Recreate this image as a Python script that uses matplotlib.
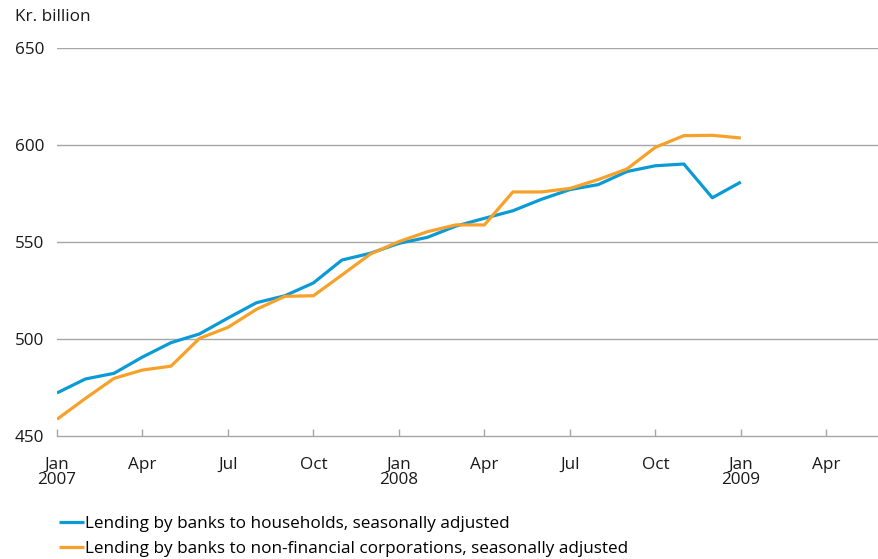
import matplotlib
matplotlib.use("Agg")
import matplotlib.pyplot as plt

plt.rcParams['font.family'] = ['Open Sans', 'DejaVu Sans']

# Monthly observations, Jan 2007 .. Jan 2009 (month index 0..24)
months = list(range(25))
households = [472.2, 479.4, 482.3, 490.7, 498.1, 502.6, 510.8, 518.7, 522.3, 528.9,
              540.7, 544.2, 549.3, 552.4, 558.2, 562.2, 566.1, 572.0, 577.0, 579.6,
              586.3, 589.3, 590.2, 572.8, 580.9]
corporations = [458.6, 469.4, 479.7, 484.0, 486.0, 500.3, 506.0, 515.3, 522.0, 522.3,
                533.0, 543.8, 550.2, 555.3, 558.8, 558.8, 575.8, 575.8, 577.6, 582.2,
                587.6, 598.8, 604.8, 605.0, 603.6]

tick_months = [0, 3, 6, 9, 12, 15, 18, 21, 24, 27]
tick_labels = ["Jan\n2007", "Apr", "Jul", "Oct", "Jan\n2008", "Apr", "Jul", "Oct", "Jan\n2009", "Apr"]
y_ticks = [450, 500, 550, 600, 650]

label_h = "Lending by banks to households, seasonally adjusted"
label_c = "Lending by banks to non-financial corporations, seasonally adjusted"

blue = "#0a9bd7"
orange = "#f7a12a"
grid_c = "#a6a6a6"
fs = 12.3

fig = plt.figure(figsize=(8.79, 5.59), dpi=100)
ax = fig.add_axes([57/879, 1-436/559, 1-57/879, (436-48)/559])

ax.plot(months, households, color=blue, lw=2.3, label=label_h, solid_capstyle='butt', zorder=3)
ax.plot(months, corporations, color=orange, lw=2.3, label=label_c, solid_capstyle='butt', zorder=3)

ax.set_ylim(450, 650)
ax.set_xlim(0, 28.85)
ax.set_yticks(y_ticks)
ax.set_xticks(tick_months)
ax.set_xticklabels(tick_labels, linespacing=0.95)

for y in y_ticks[1:]:
    ax.axhline(y, color=grid_c, lw=1.0, zorder=1)

for s in ['left', 'right', 'top']:
    ax.spines[s].set_visible(False)
ax.spines['bottom'].set_color(grid_c)
ax.spines['bottom'].set_linewidth(1.0)

ax.tick_params(axis='y', length=0, pad=9, labelsize=fs, colors='#1a1a1a')
ax.tick_params(axis='x', direction='in', length=5, color=grid_c, width=1.0,
               pad=15, labelsize=fs, labelcolor='#1a1a1a')

fig.text(15/879, 1-17/559, "Kr. billion", fontsize=fs, va='center', ha='left', color='#1a1a1a')

leg = fig.legend(loc='lower left', bbox_to_anchor=(52/879, -0.008), frameon=False,
                 fontsize=fs, handlelength=1.45, handletextpad=0.1, labelspacing=0.52,
                 borderaxespad=0.0)

fig.savefig("out.png", dpi=100)
